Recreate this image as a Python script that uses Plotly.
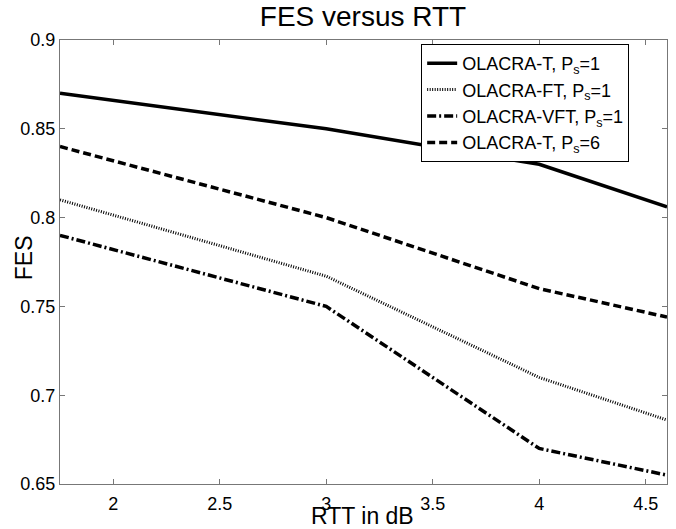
import plotly.graph_objects as go

# RTT values (dB) at which FES was evaluated
rtt = [1.75, 3.0, 4.0, 4.6]

# FES per scheme
fes_t_ps1 = [0.87, 0.85, 0.83, 0.806]
fes_ft_ps1 = [0.81, 0.767, 0.71, 0.686]
fes_vft_ps1 = [0.79, 0.75, 0.67, 0.655]
fes_t_ps6 = [0.84, 0.80, 0.76, 0.744]

series = [
    ("OLACRA-T, P<sub>s</sub>=1", fes_t_ps1, "solid", 3.5),
    ("OLACRA-FT, P<sub>s</sub>=1", fes_ft_ps1, "1px,1.5px", 3),
    ("OLACRA-VFT, P<sub>s</sub>=1", fes_vft_ps1, "9px,3px,2px,3px", 3.5),
    ("OLACRA-T, P<sub>s</sub>=6", fes_t_ps6, "8px,4px", 3.5),
]

x_ticks = [2, 2.5, 3, 3.5, 4, 4.5]
y_ticks = [0.65, 0.7, 0.75, 0.8, 0.85, 0.9]

fig = go.Figure()
for name, ys, dash, w in series:
    fig.add_trace(go.Scatter(
        x=rtt, y=ys, mode="lines", name=name,
        line=dict(color="black", width=w, dash=dash),
    ))

font_family = "Liberation Sans, Arial, sans-serif"
axis_common = dict(
    showline=True, linecolor="#777", linewidth=1, mirror="ticks",
    ticks="inside", ticklen=5, tickcolor="#777", tickwidth=1,
    showgrid=False, zeroline=False,
    tickfont=dict(family=font_family, size=18, color="black"),
)

fig.update_layout(
    width=676, height=529,
    margin=dict(l=60, r=9, t=40, b=45),
    paper_bgcolor="white", plot_bgcolor="white",
    title=dict(text="FES versus RTT", x=0.537, xanchor="center",
               y=0.97, yanchor="middle",
               font=dict(family=font_family, size=28, color="black")),
    xaxis=dict(range=[1.75, 4.6], tickvals=x_ticks,
               ticktext=[f"{v:g}" for v in x_ticks],
               ticklabelstandoff=3, **axis_common),
    yaxis=dict(range=[0.65, 0.9], tickvals=y_ticks,
               ticktext=[f"{v:g}" for v in y_ticks],
               **axis_common),
    legend=dict(x=0.595, y=0.991, xanchor="left", yanchor="top",
                bgcolor="white", bordercolor="black", borderwidth=1,
                itemwidth=30, tracegroupgap=0,
                font=dict(family=font_family, size=18, color="black")),
    showlegend=True,
    annotations=[
        dict(text="RTT in dB", xref="paper", yref="paper",
             x=0.499, y=-0.072, xanchor="center", yanchor="middle",
             showarrow=False,
             font=dict(family=font_family, size=23, color="black")),
        dict(text="FES", xref="paper", yref="paper", textangle=-90,
             x=-0.059, y=0.509, xanchor="center", yanchor="middle",
             showarrow=False,
             font=dict(family=font_family, size=23, color="black")),
    ],
)

fig.write_html("out.html")
